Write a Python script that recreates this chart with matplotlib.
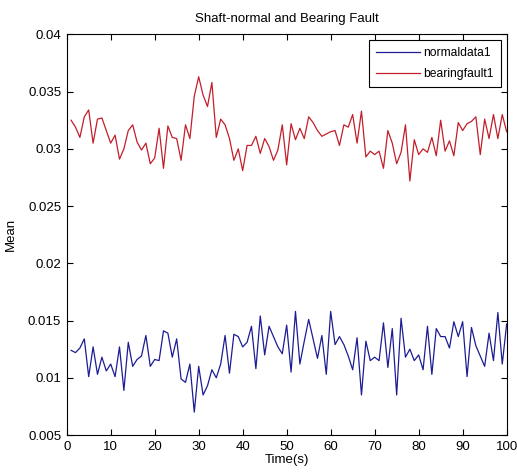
import matplotlib
matplotlib.use("Agg")
import matplotlib.pyplot as plt
import numpy as np
from matplotlib.ticker import FuncFormatter

plt.rcParams['font.family'] = ['Liberation Sans', 'DejaVu Sans']

time_s = np.arange(1, 101)

normaldata1 = [
    0.0124, 0.0122, 0.0126, 0.0134, 0.0101, 0.0127, 0.0103, 0.0118, 0.0106, 0.0112,
    0.0101, 0.0127, 0.0089, 0.0131, 0.0110, 0.0116, 0.0119, 0.0137, 0.0110, 0.0116,
    0.0115, 0.0141, 0.0139, 0.0118, 0.0134, 0.0099, 0.0096, 0.0112, 0.0070, 0.0110,
    0.0085, 0.0093, 0.0107, 0.0100, 0.0112, 0.0137, 0.0104, 0.0138, 0.0136, 0.0127,
    0.0131, 0.0145, 0.0108, 0.0154, 0.0120, 0.0145, 0.0136, 0.0127, 0.0121, 0.0146,
    0.0105, 0.0158, 0.0112, 0.0132, 0.0151, 0.0134, 0.0117, 0.0137, 0.0103, 0.0158,
    0.0129, 0.0136, 0.0129, 0.0119, 0.0107, 0.0135, 0.0085, 0.0132, 0.0115, 0.0118,
    0.0115, 0.0148, 0.0109, 0.0143, 0.0085, 0.0152, 0.0118, 0.0125, 0.0115, 0.0120,
    0.0107, 0.0145, 0.0103, 0.0143, 0.0136, 0.0136, 0.0126, 0.0149, 0.0136, 0.0149,
    0.0101, 0.0144, 0.0128, 0.0119, 0.0110, 0.0139, 0.0115, 0.0157, 0.0112, 0.0147,
]

bearingfault1 = [
    0.0325, 0.0319, 0.0310, 0.0328, 0.0334, 0.0305, 0.0326, 0.0327, 0.0316, 0.0305,
    0.0312, 0.0291, 0.0300, 0.0316, 0.0321, 0.0306, 0.0299, 0.0305, 0.0287, 0.0292,
    0.0318, 0.0283, 0.0320, 0.0310, 0.0309, 0.0290, 0.0321, 0.0309, 0.0346, 0.0363,
    0.0347, 0.0337, 0.0358, 0.0310, 0.0326, 0.0321, 0.0309, 0.0290, 0.0300, 0.0281,
    0.0303, 0.0303, 0.0311, 0.0296, 0.0309, 0.0302, 0.0290, 0.0299, 0.0321, 0.0286,
    0.0322, 0.0308, 0.0318, 0.0309, 0.0328, 0.0323, 0.0316, 0.0311, 0.0313, 0.0315,
    0.0316, 0.0303, 0.0321, 0.0319, 0.0330, 0.0305, 0.0333, 0.0293, 0.0298, 0.0295,
    0.0298, 0.0283, 0.0316, 0.0305, 0.0287, 0.0297, 0.0321, 0.0272, 0.0308, 0.0295,
    0.0300, 0.0297, 0.0310, 0.0294, 0.0325, 0.0298, 0.0307, 0.0294, 0.0323, 0.0316,
    0.0322, 0.0324, 0.0328, 0.0295, 0.0326, 0.0309, 0.0330, 0.0309, 0.0330, 0.0315,
]

x_ticks = np.arange(0, 101, 10)
y_ticks = np.arange(0.005, 0.0401, 0.005)

fig = plt.figure(figsize=(5.17, 4.76), dpi=100)
ax = fig.add_axes([0.129, 0.0861, 0.851, 0.8416])

ax.plot(time_s, normaldata1, color='#1c1c94', linewidth=0.9, label='normaldata1')
ax.plot(time_s, bearingfault1, color='#c21e2a', linewidth=0.9, label='bearingfault1')

ax.set_xlim(0, 100)
ax.set_ylim(0.005, 0.04)
ax.set_xticks(x_ticks)
ax.set_yticks(y_ticks)
ax.yaxis.set_major_formatter(FuncFormatter(lambda v, p: "%g" % round(v, 4)))
ax.tick_params(direction='in', length=4.5, width=0.8, top=True, right=True,
               labelsize=9.5, pad=4)
for s in ax.spines.values():
    s.set_linewidth(0.8)

ax.set_title("Shaft-normal and Bearing Fault", fontsize=9.5, pad=9)
ax.set_xlabel("Time(s)", fontsize=9.5, labelpad=1)
ax.set_ylabel("Mean", fontsize=9.5, labelpad=8)

# matlab-ish legend box
leg = ax.legend(loc='upper right', fontsize=8.7, fancybox=False, framealpha=1,
                edgecolor='black', handlelength=3.6, borderaxespad=0.45,
                labelspacing=0.75, borderpad=0.6, handletextpad=0.3)
leg.get_frame().set_linewidth(0.8)

fig.savefig("out.png", dpi=100)
